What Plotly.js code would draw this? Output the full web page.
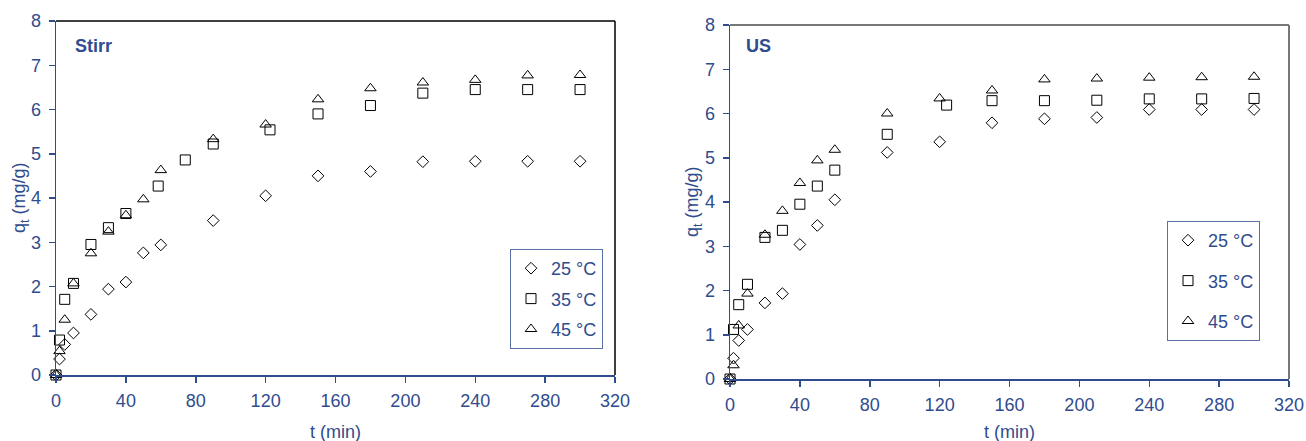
<!DOCTYPE html>
<html>
<head>
<meta charset="utf-8">
<script src="https://cdn.plot.ly/plotly-3.0.1.min.js"></script>
<style>html,body{margin:0;padding:0;background:#fff;}#chart{width:1306px;height:441px;}</style>
</head>
<body>
<div id="chart"></div>
<script>
// ---- Data ----
const seriesNames = ["25 °C", "35 °C", "45 °C"];
const panelLabels = ["Stirr", "US"];
const xTitle = "t (min)";
const yTitle = "q<sub>t</sub> (mg/g)";

// Stirr panel
const stirrT25 = [0, 2, 5, 10, 20, 30, 40, 50, 60, 90, 120, 150, 180, 210, 240, 270, 300];
const stirrQ25 = [0, 0.36, 0.69, 0.95, 1.37, 1.94, 2.10, 2.76, 2.94, 3.49, 4.05, 4.50, 4.60, 4.82, 4.83, 4.83, 4.83];
const stirrT35 = [0, 2, 5, 10, 20, 30, 40, 58.5, 74, 90, 122.5, 150, 180, 210, 240, 270, 300];
const stirrQ35 = [0, 0.79, 1.71, 2.07, 2.95, 3.33, 3.65, 4.27, 4.86, 5.22, 5.54, 5.90, 6.09, 6.37, 6.45, 6.45, 6.45];
const stirrT45 = [0, 2, 5, 10, 20, 30, 40, 50, 60, 90, 120, 150, 180, 210, 240, 270, 300];
const stirrQ45 = [0, 0.54, 1.25, 2.07, 2.75, 3.24, 3.61, 3.97, 4.63, 5.33, 5.66, 6.23, 6.48, 6.61, 6.67, 6.77, 6.78];

// US panel
const usT25 = [0, 2, 5, 10, 20, 30, 40, 50, 60, 90, 120, 150, 180, 210, 240, 270, 300];
const usQ25 = [0, 0.47, 0.87, 1.12, 1.72, 1.93, 3.04, 3.47, 4.05, 5.12, 5.36, 5.79, 5.88, 5.91, 6.09, 6.09, 6.09];
const usT35 = [0, 2, 5, 10, 20, 30, 40, 50, 60, 90, 124, 150, 180, 210, 240, 270, 300];
const usQ35 = [0, 1.12, 1.68, 2.14, 3.20, 3.36, 3.95, 4.36, 4.72, 5.53, 6.19, 6.29, 6.29, 6.30, 6.33, 6.33, 6.34];
const usT45 = [0, 2, 5, 10, 20, 30, 40, 50, 60, 90, 120, 150, 180, 210, 240, 270, 300];
const usQ45 = [0, 0.31, 1.21, 1.93, 3.26, 3.80, 4.43, 4.94, 5.18, 6.00, 6.34, 6.52, 6.77, 6.79, 6.81, 6.82, 6.83];

const xTickVals = [0, 40, 80, 120, 160, 200, 240, 280, 320];
const yTickVals = [0, 1, 2, 3, 4, 5, 6, 7, 8];

// ---- Styling ----
const BLUE = "#2f4c8e";
const FONT = "Arial, 'Liberation Sans', sans-serif";
const symbols = ["diamond-open", "square-open", "triangle-up-open"];
const sizes = [9, 10, 10];

function mk(x, y, i, xa, ya, leg) {
  return {
    type: "scatter", mode: "markers", x: x, y: y, name: seriesNames[i],
    xaxis: xa, yaxis: ya, legend: leg, legendgroup: leg + i,
    marker: {symbol: symbols[i], size: sizes[i], color: "#000", line: {width: 1, color: "#000"}},
    showlegend: true, cliponaxis: false
  };
}

const data = [
  mk(stirrT25, stirrQ25, 0, "x", "y", "legend"),
  mk(stirrT35, stirrQ35, 1, "x", "y", "legend"),
  mk(stirrT45, stirrQ45, 2, "x", "y", "legend"),
  mk(usT25, usQ25, 0, "x2", "y2", "legend2"),
  mk(usT35, usQ35, 1, "x2", "y2", "legend2"),
  mk(usT45, usQ45, 2, "x2", "y2", "legend2")
];

const W = 1306, H = 441;
function xaxis(d, anchor) {
  return {
    domain: d, anchor: anchor, range: [0, 320], tickvals: xTickVals, ticktext: xTickVals.map(String),
    showgrid: false, zeroline: false, showline: true, linecolor: BLUE, linewidth: 1.5,
    ticks: "outside", ticklen: 6, tickcolor: BLUE, tickwidth: 1.5,
    tickfont: {family: FONT, size: 18, color: BLUE}, ticklabelstandoff: 3,
    fixedrange: true
  };
}
function yaxis(d, anchor) {
  return {
    domain: d, anchor: anchor, range: [0, 8], tickvals: yTickVals, ticktext: yTickVals.map(String),
    showgrid: false, zeroline: false, showline: true, linecolor: BLUE, linewidth: 1.5,
    ticks: "outside", ticklen: 6, tickcolor: BLUE, tickwidth: 1.5,
    tickfont: {family: FONT, size: 18, color: BLUE}, ticklabelstandoff: 4,
    fixedrange: true
  };
}

const xd1 = [56 / W, 615 / W], xd2 = [730 / W, 1289 / W];
const yd1 = [1 - 375 / H, 1 - 21 / H], yd2 = [1 - 379 / H, 1 - 25 / H];

function legendCfg(xRight, yTop, gap) {
  return {
    x: xRight / W, xanchor: "right", y: 1 - yTop / H, yanchor: "top",
    bgcolor: "rgba(255,255,255,0)", bordercolor: "#5a6fa6", borderwidth: 1,
    font: {family: FONT, size: 18, color: BLUE},
    traceorder: "grouped", tracegroupgap: gap, itemwidth: 30
  };
}

function titleAnn(xref, yref, isX) {
  const f = {family: FONT, size: 18, color: BLUE};
  if (isX) {
    return {text: xTitle, xref: xref + " domain", yref: "paper", x: 0.5, y: 1 - 432 / H,
      xanchor: "center", yanchor: "middle", showarrow: false, font: f};
  }
  return {text: yTitle, xref: "paper", yref: yref + " domain", x: 20 / W, y: 0.5,
    xanchor: "center", yanchor: "middle", textangle: -90, showarrow: false, font: f};
}

const layout = {
  width: W, height: H,
  margin: {l: 0, r: 0, t: 0, b: 0},
  paper_bgcolor: "#fff", plot_bgcolor: "#fff",
  showlegend: true,
  xaxis: xaxis(xd1, "y"), yaxis: yaxis(yd1, "x"),
  xaxis2: xaxis(xd2, "y2"), yaxis2: yaxis(yd2, "x2"),
  legend: legendCfg(603, 249, 4),
  legend2: legendCfg(1260, 221, 14),
  shapes: [
    {type: "line", xref: "x domain", yref: "y domain", x0: 0, x1: 1, y0: 1, y1: 1, line: {color: "#000", width: 1.5}},
    {type: "line", xref: "x domain", yref: "y domain", x0: 1, x1: 1, y0: 0, y1: 1, line: {color: "#000", width: 1.5}},
    {type: "line", xref: "x2 domain", yref: "y2 domain", x0: 0, x1: 1, y0: 1, y1: 1, line: {color: "#777", width: 2}},
    {type: "line", xref: "x2 domain", yref: "y2 domain", x0: 1, x1: 1, y0: 0, y1: 1, line: {color: "#777", width: 2}}
  ],
  annotations: [
    {text: "<b>" + panelLabels[0] + "</b>", xref: "x domain", yref: "y domain", x: 17 / 559, y: 1 - 25 / 354,
     xanchor: "left", yanchor: "middle", showarrow: false, font: {family: FONT, size: 18, color: BLUE}},
    {text: "<b>" + panelLabels[1] + "</b>", xref: "x2 domain", yref: "y2 domain", x: 14 / 559, y: 1 - 21 / 354,
     xanchor: "left", yanchor: "middle", showarrow: false, font: {family: FONT, size: 18, color: BLUE}},
    titleAnn("x", "y", true), titleAnn("x", "y", false),
    titleAnn("x2", "y2", true),
    {text: yTitle, xref: "paper", yref: "y2 domain", x: 693 / W, y: 0.5,
     xanchor: "center", yanchor: "middle", textangle: -90, showarrow: false, font: {family: FONT, size: 18, color: BLUE}}
  ]
};

Plotly.newPlot("chart", data, layout, {displayModeBar: false, staticPlot: true});
</script>
</body>
</html>
